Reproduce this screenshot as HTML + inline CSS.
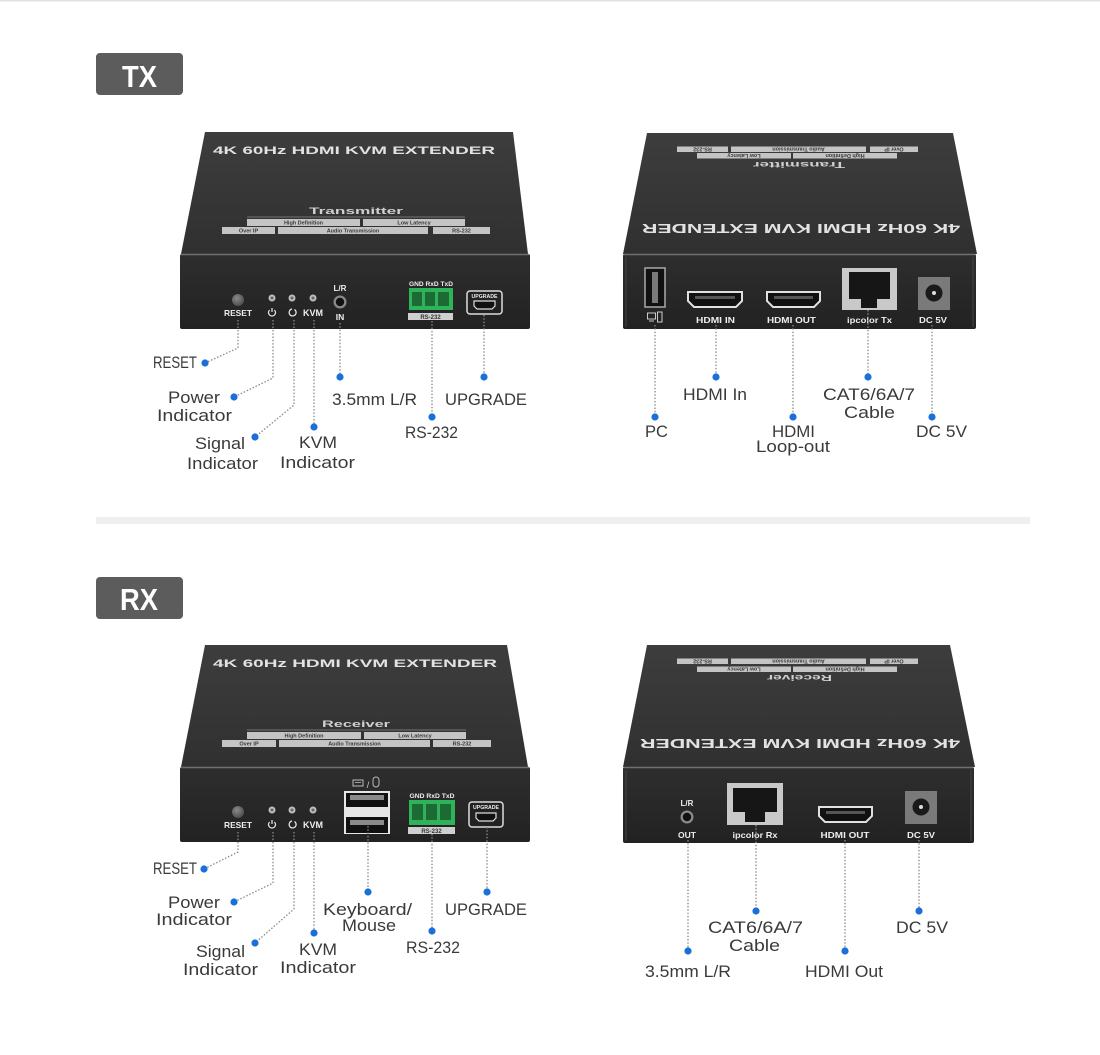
<!DOCTYPE html>
<html><head><meta charset="utf-8"><style>
html,body{margin:0;padding:0;background:#fff;}
svg{display:block;font-family:"Liberation Sans",sans-serif;}
.lb{font-size:17px;fill:#3a3a3a;}
.fl{font-weight:bold;fill:#eeeeee;}
.cn{fill:none;stroke:#8a8a8a;stroke-width:1.3;stroke-dasharray:1.5 1.8;}
.dt{fill:#1b6fd8;}
.tag{fill:#c4c4c4;}
.tt{font-size:5.5px;fill:#3a3a3a;font-weight:bold;}
</style></head><body>
<svg width="1100" height="1055" viewBox="0 0 1100 1055" xmlns="http://www.w3.org/2000/svg">
<defs>
<linearGradient id="topg" x1="0" y1="0" x2="0" y2="1"><stop offset="0" stop-color="#3d3d3d"/><stop offset="1" stop-color="#303030"/></linearGradient>
<linearGradient id="frg" x1="0" y1="0" x2="0" y2="1"><stop offset="0" stop-color="#2e2e2e"/><stop offset="1" stop-color="#222"/></linearGradient>
<radialGradient id="btn" cx="0.4" cy="0.35" r="0.7"><stop offset="0" stop-color="#8a8a8a"/><stop offset="1" stop-color="#4a4a4a"/></radialGradient>
</defs>
<rect x="0" y="0" width="1100" height="1.5" fill="#e2e2e2"/>
<!-- badges -->
<rect x="96" y="53" width="87" height="42" rx="4" fill="#5c5c5c"/>
<text x="139.5" y="87" font-size="31" font-weight="bold" fill="#fff" text-anchor="middle" textLength="35" lengthAdjust="spacingAndGlyphs">TX</text>
<rect x="96" y="577" width="87" height="42" rx="4" fill="#5c5c5c"/>
<text x="139" y="610" font-size="31" font-weight="bold" fill="#fff" text-anchor="middle" textLength="38" lengthAdjust="spacingAndGlyphs">RX</text>
<rect x="96" y="517" width="934" height="7" fill="#efefef"/>

<!-- ===== TX FRONT ===== -->
<g>
<polygon points="205,132 513,132 528,254 181,254" fill="url(#topg)"/>
<rect x="180" y="254" width="350" height="75" rx="2" fill="url(#frg)"/>
<line x1="181" y1="254.5" x2="529" y2="254.5" stroke="#707070" stroke-width="1.5"/>
<text x="354" y="154" font-size="11" font-weight="bold" fill="#e2e2e2" text-anchor="middle" textLength="282" lengthAdjust="spacingAndGlyphs">4K 60Hz HDMI KVM EXTENDER</text>
<text x="356" y="214" font-size="9" font-weight="bold" fill="#cfcfcf" text-anchor="middle" textLength="94" lengthAdjust="spacingAndGlyphs">Transmitter</text>
<line x1="247" y1="217" x2="465" y2="217" stroke="#888" stroke-width="0.8"/>
<rect class="tag" x="247" y="219" width="113" height="7"/><text class="tt" x="303.5" y="224.5" text-anchor="middle">High Definition</text>
<rect class="tag" x="363" y="219" width="102" height="7"/><text class="tt" x="414" y="224.5" text-anchor="middle">Low Latency</text>
<rect class="tag" x="222" y="227" width="53" height="7"/><text class="tt" x="248.5" y="232.5" text-anchor="middle">Over IP</text>
<rect class="tag" x="278" y="227" width="150" height="7"/><text class="tt" x="353" y="232.5" text-anchor="middle">Audio Transmission</text>
<rect class="tag" x="433" y="227" width="57" height="7"/><text class="tt" x="461.5" y="232.5" text-anchor="middle">RS-232</text>
<!-- components -->
<circle cx="238" cy="300" r="6" fill="url(#btn)"/>
<text class="fl" x="238" y="316" font-size="8.5" text-anchor="middle" textLength="28" lengthAdjust="spacingAndGlyphs">RESET</text>
<circle cx="272" cy="298" r="3.5" fill="#bdbdbd"/><circle cx="272" cy="298" r="1.5" fill="#666"/>
<circle cx="292" cy="298" r="3.5" fill="#bdbdbd"/><circle cx="292" cy="298" r="1.5" fill="#666"/>
<circle cx="313" cy="298" r="3.5" fill="#bdbdbd"/><circle cx="313" cy="298" r="1.5" fill="#666"/>
<path d="M269.6,310 A3.5,3.5 0 1 0 274.4,310" fill="none" stroke="#eee" stroke-width="1.2"/><line x1="272" y1="308" x2="272" y2="312" stroke="#eee" stroke-width="1.2"/>
<path d="M294.5,309.5 A3.5,3.5 0 1 1 292,309" fill="none" stroke="#eee" stroke-width="1.2"/>
<text class="fl" x="313" y="316" font-size="9" text-anchor="middle" textLength="20" lengthAdjust="spacingAndGlyphs">KVM</text>
<text class="fl" x="340" y="291" font-size="8" text-anchor="middle">L/R</text>
<circle cx="340" cy="302" r="6.5" fill="#8a8a8a"/><circle cx="340" cy="302" r="4.2" fill="#111"/>
<text class="fl" x="340" y="320" font-size="8.5" text-anchor="middle">IN</text>
<text class="fl" x="431" y="286" font-size="6" text-anchor="middle" textLength="44" lengthAdjust="spacingAndGlyphs">GND RxD TxD</text>
<rect x="409" y="288" width="44" height="22" fill="#2fb35a"/>
<rect x="412" y="292" width="10" height="14" fill="#1c6b34"/><rect x="425" y="292" width="10" height="14" fill="#1c6b34"/><rect x="438" y="292" width="11" height="14" fill="#1c6b34"/>
<rect x="408" y="313" width="45" height="7" fill="#cfcfcf"/><text x="430.5" y="319" font-size="6" font-weight="bold" fill="#333" text-anchor="middle">RS-232</text>
<rect x="467" y="291" width="35" height="23" rx="3" fill="#222" stroke="#ddd" stroke-width="1.5"/>
<text class="fl" x="484.5" y="298" font-size="5" text-anchor="middle" textLength="26" lengthAdjust="spacingAndGlyphs">UPGRADE</text>
<path d="M474,301 H495 V306 L492,309 H477 L474,306 Z" fill="#111" stroke="#ddd" stroke-width="1.2"/>
</g>

<!-- ===== TX BACK ===== -->
<g>
<polygon points="647,133 953,133 977,254 623,254" fill="url(#topg)"/>
<rect x="623" y="254" width="353" height="75" rx="2" fill="url(#frg)"/>
<line x1="624" y1="254.5" x2="975" y2="254.5" stroke="#707070" stroke-width="1.5"/>
<line x1="626" y1="257" x2="626" y2="327" stroke="#444" stroke-width="1"/>
<line x1="973" y1="257" x2="973" y2="327" stroke="#444" stroke-width="1"/>
<text transform="rotate(180 801 228.5)" x="801" y="233" font-size="12.5" font-weight="bold" fill="#e2e2e2" text-anchor="middle" textLength="318" lengthAdjust="spacingAndGlyphs">4K 60Hz HDMI KVM EXTENDER</text>
<text transform="rotate(180 799 165)" x="799" y="168" font-size="8.5" font-weight="bold" fill="#cfcfcf" text-anchor="middle" textLength="92" lengthAdjust="spacingAndGlyphs">Transmitter</text>
<rect class="tag" x="697" y="153" width="94" height="5.5"/><text class="tt" transform="rotate(180 744 155.7)" x="744" y="157.5" font-size="5" text-anchor="middle">Low Latency</text>
<rect class="tag" x="793" y="153" width="104" height="5.5"/><text class="tt" transform="rotate(180 845 155.7)" x="845" y="157.5" font-size="5" text-anchor="middle">High Definition</text>
<rect class="tag" x="677" y="146.5" width="51" height="5.5"/><text class="tt" transform="rotate(180 702.5 149.2)" x="702.5" y="151" font-size="5" text-anchor="middle">RS-232</text>
<rect class="tag" x="731" y="146.5" width="135" height="5.5"/><text class="tt" transform="rotate(180 798.5 149.2)" x="798.5" y="151" font-size="5" text-anchor="middle">Audio Transmission</text>
<rect class="tag" x="870" y="146.5" width="48" height="5.5"/><text class="tt" transform="rotate(180 894 149.2)" x="894" y="151" font-size="5" text-anchor="middle">Over IP</text>
<!-- ports -->
<rect x="645" y="268" width="20" height="39" fill="#111" stroke="#aaa" stroke-width="1.5"/>
<rect x="652" y="272" width="6" height="31" fill="#7a7a7a"/>
<rect x="647.5" y="313" width="8" height="6" fill="none" stroke="#ccc" stroke-width="1"/><line x1="649" y1="321" x2="654" y2="321" stroke="#ccc" stroke-width="1"/>
<rect x="657.5" y="312" width="4.5" height="10" fill="none" stroke="#ccc" stroke-width="1"/>
<path d="M688,292 H742 V301 L736,307 H694 L688,301 Z" fill="#111" stroke="#e0e0e0" stroke-width="2"/>
<rect x="695" y="296" width="40" height="3" fill="#555"/>
<text class="fl" x="715.5" y="323" font-size="8.5" text-anchor="middle" textLength="39" lengthAdjust="spacingAndGlyphs">HDMI IN</text>
<path d="M767,292 H820 V301 L814,307 H773 L767,301 Z" fill="#111" stroke="#e0e0e0" stroke-width="2"/>
<rect x="774" y="296" width="39" height="3" fill="#555"/>
<text class="fl" x="791.5" y="323" font-size="8.5" text-anchor="middle" textLength="49" lengthAdjust="spacingAndGlyphs">HDMI OUT</text>
<rect x="842" y="268" width="55" height="42" fill="#c9c9c9"/>
<rect x="849" y="272" width="41" height="27" fill="#161616"/>
<rect x="861" y="299" width="16" height="9" fill="#161616"/>
<text class="fl" x="869.5" y="323" font-size="8.5" text-anchor="middle" textLength="45" lengthAdjust="spacingAndGlyphs">ipcolor Tx</text>
<rect x="918" y="277" width="32" height="33" fill="#7a7a7a"/>
<circle cx="934" cy="293" r="8.5" fill="#1a1a1a"/><circle cx="934" cy="293" r="2" fill="#ddd"/>
<text class="fl" x="933" y="323" font-size="8.5" text-anchor="middle" textLength="28" lengthAdjust="spacingAndGlyphs">DC 5V</text>
</g>

<!-- ===== RX FRONT ===== -->
<g>
<polygon points="205,645 507,645 528,767 181,767" fill="url(#topg)"/>
<rect x="180" y="767" width="350" height="75" rx="2" fill="url(#frg)"/>
<line x1="181" y1="767.5" x2="529" y2="767.5" stroke="#707070" stroke-width="1.5"/>
<text x="355" y="667" font-size="11" font-weight="bold" fill="#e2e2e2" text-anchor="middle" textLength="284" lengthAdjust="spacingAndGlyphs">4K 60Hz HDMI KVM EXTENDER</text>
<text x="356" y="727" font-size="9" font-weight="bold" fill="#cfcfcf" text-anchor="middle" textLength="68" lengthAdjust="spacingAndGlyphs">Receiver</text>
<line x1="247" y1="730" x2="466" y2="730" stroke="#888" stroke-width="0.8"/>
<rect class="tag" x="247" y="732" width="114" height="7"/><text class="tt" x="304" y="737.5" text-anchor="middle">High Definition</text>
<rect class="tag" x="364" y="732" width="102" height="7"/><text class="tt" x="415" y="737.5" text-anchor="middle">Low Latency</text>
<rect class="tag" x="222" y="740" width="54" height="7"/><text class="tt" x="249" y="745.5" text-anchor="middle">Over IP</text>
<rect class="tag" x="279" y="740" width="151" height="7"/><text class="tt" x="354.5" y="745.5" text-anchor="middle">Audio Transmission</text>
<rect class="tag" x="433" y="740" width="58" height="7"/><text class="tt" x="462" y="745.5" text-anchor="middle">RS-232</text>
<circle cx="238" cy="812" r="6" fill="url(#btn)"/>
<text class="fl" x="238" y="828" font-size="8.5" text-anchor="middle" textLength="28" lengthAdjust="spacingAndGlyphs">RESET</text>
<circle cx="272" cy="810" r="3.5" fill="#bdbdbd"/><circle cx="272" cy="810" r="1.5" fill="#666"/>
<circle cx="292" cy="810" r="3.5" fill="#bdbdbd"/><circle cx="292" cy="810" r="1.5" fill="#666"/>
<circle cx="313" cy="810" r="3.5" fill="#bdbdbd"/><circle cx="313" cy="810" r="1.5" fill="#666"/>
<path d="M269.6,822 A3.5,3.5 0 1 0 274.4,822" fill="none" stroke="#eee" stroke-width="1.2"/><line x1="272" y1="820" x2="272" y2="824" stroke="#eee" stroke-width="1.2"/>
<path d="M294.5,821.5 A3.5,3.5 0 1 1 292,821" fill="none" stroke="#eee" stroke-width="1.2"/>
<text class="fl" x="313" y="828" font-size="9" text-anchor="middle" textLength="20" lengthAdjust="spacingAndGlyphs">KVM</text>
<!-- kb/mouse icon -->
<rect x="353" y="780" width="10" height="6" fill="none" stroke="#bbb" stroke-width="1"/>
<line x1="355" y1="782.5" x2="361" y2="782.5" stroke="#bbb" stroke-width="0.8"/>
<text x="368" y="788" font-size="9" fill="#ccc" text-anchor="middle">/</text>
<rect x="373" y="777" width="6" height="10" rx="3" fill="none" stroke="#bbb" stroke-width="1"/>
<rect x="344" y="791" width="46" height="43" fill="#e6e6e6"/>
<rect x="346" y="793" width="42" height="14" fill="#111"/><rect x="350" y="795" width="34" height="5" fill="#8a8a8a"/>
<rect x="346" y="817" width="42" height="16" fill="#111"/><rect x="350" y="820" width="34" height="5" fill="#8a8a8a"/>
<text class="fl" x="432" y="798" font-size="6" text-anchor="middle" textLength="45" lengthAdjust="spacingAndGlyphs">GND RxD TxD</text>
<rect x="409" y="800" width="46" height="25" fill="#2fb35a"/>
<rect x="412" y="804" width="11" height="16" fill="#1c6b34"/><rect x="426" y="804" width="11" height="16" fill="#1c6b34"/><rect x="440" y="804" width="11" height="16" fill="#1c6b34"/>
<rect x="408" y="827" width="47" height="7" fill="#cfcfcf"/><text x="431.5" y="833" font-size="6" font-weight="bold" fill="#333" text-anchor="middle">RS-232</text>
<rect x="469" y="802" width="34" height="25" rx="3" fill="#222" stroke="#ddd" stroke-width="1.5"/>
<text class="fl" x="486" y="809" font-size="5" text-anchor="middle" textLength="26" lengthAdjust="spacingAndGlyphs">UPGRADE</text>
<path d="M476,813 H496 V818 L493,821 H479 L476,818 Z" fill="#111" stroke="#ddd" stroke-width="1.2"/>
</g>

<!-- ===== RX BACK ===== -->
<g>
<polygon points="647,645 950,645 975,767 623,767" fill="url(#topg)"/>
<rect x="623" y="767" width="351" height="76" rx="2" fill="url(#frg)"/>
<line x1="624" y1="767.5" x2="973" y2="767.5" stroke="#707070" stroke-width="1.5"/>
<line x1="626" y1="770" x2="626" y2="841" stroke="#444" stroke-width="1"/>
<line x1="971" y1="770" x2="971" y2="841" stroke="#444" stroke-width="1"/>
<text transform="rotate(180 800 743.5)" x="800" y="748" font-size="12.5" font-weight="bold" fill="#e2e2e2" text-anchor="middle" textLength="320" lengthAdjust="spacingAndGlyphs">4K 60Hz HDMI KVM EXTENDER</text>
<text transform="rotate(180 799.5 678)" x="799.5" y="681" font-size="8.5" font-weight="bold" fill="#cfcfcf" text-anchor="middle" textLength="65" lengthAdjust="spacingAndGlyphs">Receiver</text>
<rect class="tag" x="697" y="666.5" width="94" height="5.5"/><text class="tt" transform="rotate(180 744 669.2)" x="744" y="671" font-size="5" text-anchor="middle">Low Latency</text>
<rect class="tag" x="793" y="666.5" width="104" height="5.5"/><text class="tt" transform="rotate(180 845 669.2)" x="845" y="671" font-size="5" text-anchor="middle">High Definition</text>
<rect class="tag" x="677" y="658.5" width="51" height="5.5"/><text class="tt" transform="rotate(180 702.5 661.2)" x="702.5" y="663" font-size="5" text-anchor="middle">RS-232</text>
<rect class="tag" x="731" y="658.5" width="135" height="5.5"/><text class="tt" transform="rotate(180 798.5 661.2)" x="798.5" y="663" font-size="5" text-anchor="middle">Audio Transmission</text>
<rect class="tag" x="870" y="658.5" width="48" height="5.5"/><text class="tt" transform="rotate(180 894 661.2)" x="894" y="663" font-size="5" text-anchor="middle">Over IP</text>
<text class="fl" x="687" y="806" font-size="8" text-anchor="middle">L/R</text>
<circle cx="687" cy="817" r="6.5" fill="#8a8a8a"/><circle cx="687" cy="817" r="4.2" fill="#111"/>
<text class="fl" x="687" y="838" font-size="8.5" text-anchor="middle">OUT</text>
<rect x="727" y="783" width="56" height="42" fill="#c9c9c9"/>
<rect x="733" y="788" width="44" height="24" fill="#161616"/>
<rect x="745" y="812" width="20" height="10" fill="#161616"/>
<text class="fl" x="755" y="838" font-size="8.5" text-anchor="middle" textLength="45" lengthAdjust="spacingAndGlyphs">ipcolor Rx</text>
<path d="M819,807 H872 V816 L866,822 H825 L819,816 Z" fill="#111" stroke="#e0e0e0" stroke-width="2"/>
<rect x="826" y="811" width="39" height="3" fill="#555"/>
<text class="fl" x="845" y="838" font-size="8.5" text-anchor="middle" textLength="49" lengthAdjust="spacingAndGlyphs">HDMI OUT</text>
<rect x="905" y="791" width="32" height="33" fill="#7a7a7a"/>
<circle cx="921" cy="807" r="8.5" fill="#1a1a1a"/><circle cx="921" cy="807" r="2" fill="#ddd"/>
<text class="fl" x="921" y="838" font-size="8.5" text-anchor="middle" textLength="28" lengthAdjust="spacingAndGlyphs">DC 5V</text>
</g>

<!-- ===== CONNECTORS ===== -->
<g>
<polyline class="cn" points="238,320 238,348 205,363"/><circle class="dt" cx="205" cy="363" r="3.6"/>
<polyline class="cn" points="273,320 273,378 234,397"/><circle class="dt" cx="234" cy="397" r="3.6"/>
<polyline class="cn" points="294,320 294,405 255,437"/><circle class="dt" cx="255" cy="437" r="3.6"/>
<polyline class="cn" points="314,320 314,427"/><circle class="dt" cx="314" cy="427" r="3.6"/>
<polyline class="cn" points="340,323 340,377"/><circle class="dt" cx="340" cy="377" r="3.6"/>
<polyline class="cn" points="432,321 432,417"/><circle class="dt" cx="432" cy="417" r="3.6"/>
<polyline class="cn" points="484,315 484,377"/><circle class="dt" cx="484" cy="377" r="3.6"/>

<polyline class="cn" points="655,325 655,417"/><circle class="dt" cx="655" cy="417" r="3.6"/>
<polyline class="cn" points="716,325 716,377"/><circle class="dt" cx="716" cy="377" r="3.6"/>
<polyline class="cn" points="793,325 793,417"/><circle class="dt" cx="793" cy="417" r="3.6"/>
<polyline class="cn" points="868,310 868,377"/><circle class="dt" cx="868" cy="377" r="3.6"/>
<polyline class="cn" points="932,325 932,417"/><circle class="dt" cx="932" cy="417" r="3.6"/>

<polyline class="cn" points="238,832 238,852 204,869"/><circle class="dt" cx="204" cy="869" r="3.6"/>
<polyline class="cn" points="273,832 273,883 234,902"/><circle class="dt" cx="234" cy="902" r="3.6"/>
<polyline class="cn" points="294,832 294,909 255,943"/><circle class="dt" cx="255" cy="943" r="3.6"/>
<polyline class="cn" points="314,832 314,933"/><circle class="dt" cx="314" cy="933" r="3.6"/>
<polyline class="cn" points="368,826 368,892"/><circle class="dt" cx="368" cy="892" r="3.6"/>
<polyline class="cn" points="432,834 432,931"/><circle class="dt" cx="432" cy="931" r="3.6"/>
<polyline class="cn" points="487,827 487,892"/><circle class="dt" cx="487" cy="892" r="3.6"/>

<polyline class="cn" points="688,840 688,951"/><circle class="dt" cx="688" cy="951" r="3.6"/>
<polyline class="cn" points="756,825 756,911"/><circle class="dt" cx="756" cy="911" r="3.6"/>
<polyline class="cn" points="845,840 845,951"/><circle class="dt" cx="845" cy="951" r="3.6"/>
<polyline class="cn" points="919,840 919,911"/><circle class="dt" cx="919" cy="911" r="3.6"/>
</g>

<!-- ===== LABELS ===== -->
<g class="lb">
<text class="lb" x="175" y="368" text-anchor="middle" textLength="44" lengthAdjust="spacingAndGlyphs">RESET</text>
<text class="lb" x="194" y="403" text-anchor="middle" textLength="52" lengthAdjust="spacingAndGlyphs">Power</text>
<text class="lb" x="194.5" y="421" text-anchor="middle" textLength="75" lengthAdjust="spacingAndGlyphs">Indicator</text>
<text class="lb" x="220" y="449" text-anchor="middle" textLength="50" lengthAdjust="spacingAndGlyphs">Signal</text>
<text class="lb" x="222.5" y="469" text-anchor="middle" textLength="71" lengthAdjust="spacingAndGlyphs">Indicator</text>
<text class="lb" x="318" y="448" text-anchor="middle" textLength="38" lengthAdjust="spacingAndGlyphs">KVM</text>
<text class="lb" x="317.5" y="468" text-anchor="middle" textLength="75" lengthAdjust="spacingAndGlyphs">Indicator</text>
<text class="lb" x="374.5" y="405" text-anchor="middle" textLength="85" lengthAdjust="spacingAndGlyphs">3.5mm L/R</text>
<text class="lb" x="431.5" y="438" text-anchor="middle" textLength="53" lengthAdjust="spacingAndGlyphs">RS-232</text>
<text class="lb" x="486" y="405" text-anchor="middle" textLength="82" lengthAdjust="spacingAndGlyphs">UPGRADE</text>

<text class="lb" x="656.5" y="437" text-anchor="middle" textLength="23" lengthAdjust="spacingAndGlyphs">PC</text>
<text class="lb" x="715" y="400" text-anchor="middle" textLength="64" lengthAdjust="spacingAndGlyphs">HDMI In</text>
<text class="lb" x="793.5" y="437" text-anchor="middle" textLength="43" lengthAdjust="spacingAndGlyphs">HDMI</text>
<text class="lb" x="793" y="452" text-anchor="middle" textLength="74" lengthAdjust="spacingAndGlyphs">Loop-out</text>
<text class="lb" x="869" y="400" text-anchor="middle" textLength="92" lengthAdjust="spacingAndGlyphs">CAT6/6A/7</text>
<text class="lb" x="869.5" y="418" text-anchor="middle" textLength="51" lengthAdjust="spacingAndGlyphs">Cable</text>
<text class="lb" x="941.5" y="437" text-anchor="middle" textLength="51" lengthAdjust="spacingAndGlyphs">DC 5V</text>

<text class="lb" x="175" y="874" text-anchor="middle" textLength="44" lengthAdjust="spacingAndGlyphs">RESET</text>
<text class="lb" x="194" y="908" text-anchor="middle" textLength="52" lengthAdjust="spacingAndGlyphs">Power</text>
<text class="lb" x="194" y="925" text-anchor="middle" textLength="76" lengthAdjust="spacingAndGlyphs">Indicator</text>
<text class="lb" x="220.5" y="957" text-anchor="middle" textLength="49" lengthAdjust="spacingAndGlyphs">Signal</text>
<text class="lb" x="220.5" y="975" text-anchor="middle" textLength="75" lengthAdjust="spacingAndGlyphs">Indicator</text>
<text class="lb" x="318" y="955" text-anchor="middle" textLength="38" lengthAdjust="spacingAndGlyphs">KVM</text>
<text class="lb" x="318" y="973" text-anchor="middle" textLength="76" lengthAdjust="spacingAndGlyphs">Indicator</text>
<text class="lb" x="367.5" y="915" text-anchor="middle" textLength="89" lengthAdjust="spacingAndGlyphs">Keyboard/</text>
<text class="lb" x="369" y="931" text-anchor="middle" textLength="54" lengthAdjust="spacingAndGlyphs">Mouse</text>
<text class="lb" x="433" y="953" text-anchor="middle" textLength="54" lengthAdjust="spacingAndGlyphs">RS-232</text>
<text class="lb" x="486" y="915" text-anchor="middle" textLength="82" lengthAdjust="spacingAndGlyphs">UPGRADE</text>

<text class="lb" x="688" y="977" text-anchor="middle" textLength="86" lengthAdjust="spacingAndGlyphs">3.5mm L/R</text>
<text class="lb" x="755.5" y="933" text-anchor="middle" textLength="95" lengthAdjust="spacingAndGlyphs">CAT6/6A/7</text>
<text class="lb" x="754.5" y="951" text-anchor="middle" textLength="51" lengthAdjust="spacingAndGlyphs">Cable</text>
<text class="lb" x="844" y="977" text-anchor="middle" textLength="78" lengthAdjust="spacingAndGlyphs">HDMI Out</text>
<text class="lb" x="922" y="933" text-anchor="middle" textLength="52" lengthAdjust="spacingAndGlyphs">DC 5V</text>
</g>
</svg>
</body></html>
